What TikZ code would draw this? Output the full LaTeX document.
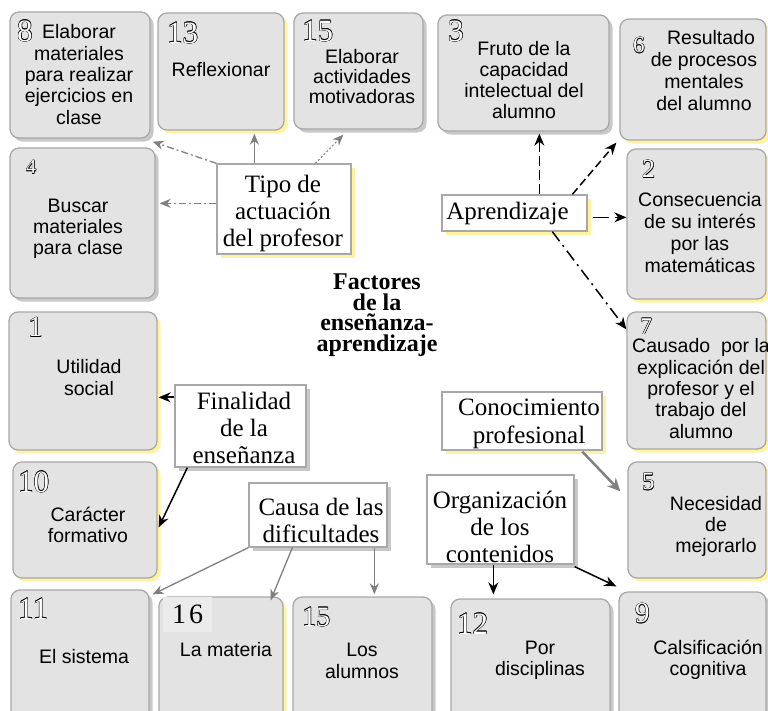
\documentclass[tikz,border=0pt]{standalone}
\usepackage{fontspec}
\setmainfont{Liberation Serif}
\newfontfamily\arial{Liberation Sans}
\usetikzlibrary{arrows.meta,shadows,calc}
\definecolor{boxfill}{HTML}{E3E3E3}
\definecolor{boxline}{HTML}{A8A8A8}
\definecolor{shy}{HTML}{FFF2A0}
\definecolor{shg}{HTML}{C8C8C8}
\definecolor{arrgrey}{HTML}{808080}
\definecolor{sqfill}{HTML}{EBEBEB}
\newcommand\hol[1]{{\setbox0=\hbox{#1}%
\rlap{\kern-0.4pt\copy0}\rlap{\kern0.4pt\copy0}\rlap{\raise0.4pt\copy0}\rlap{\raise-0.4pt\copy0}%
\rlap{\kern0.3pt\raise0.3pt\copy0}\rlap{\kern-0.3pt\raise-0.3pt\copy0}%
\rlap{\kern0.3pt\raise-0.3pt\copy0}\rlap{\kern-0.3pt\raise0.3pt\copy0}%
\textcolor{white}{\copy0}}}
\newcommand\mkbox[6]{%
 \pgfmathsetmacro\bxW{#4-#2}\pgfmathsetmacro\bxH{#5-#3}%
 \pgfmathsetmacro\bxX{(#2+#4)/2}\pgfmathsetmacro\bxY{(#3+#5)/2}%
 \node[#1, minimum width=\bxW pt, minimum height=\bxH pt] (#6) at (\bxX,\bxY) {};}
\tikzset{
 gbox/.style={draw=boxline, line width=1.3pt, fill=boxfill, rounded corners=9pt, inner sep=0pt},
 lbox/.style={draw=boxline, line width=1.3pt, fill=white, inner sep=0pt},
 yshad/.style={drop shadow={shadow xshift=3.5pt, shadow yshift=-3.5pt, fill=shy, opacity=1}},
 gshad/.style={drop shadow={shadow xshift=3.5pt, shadow yshift=-3.5pt, fill=shg, opacity=1}},
 btext/.style={font=\arial\fontsize{19.5}{21.3}\selectfont, align=center, inner sep=0pt},
 ltext/.style={font=\fontsize{25}{27}\selectfont, align=center, inner sep=0pt},
 num/.style={anchor=north west, inner sep=0pt},
 garr/.style={draw=arrgrey, line width=1.3pt, -{Stealth[length=11pt,width=9pt]}},
 barr/.style={draw=black, line width=1.5pt, -{Stealth[length=12pt,width=10pt]}},
}
\begin{document}
\begin{tikzpicture}[x=1pt,y=-1pt]
\useasboundingbox (0,0) rectangle (768,710);
\clip (0,0) rectangle (768,710);
% grey boxes
\mkbox{gbox,gshad}{10}{12}{150}{138}{b8}
\mkbox{gbox,yshad}{158}{13}{284}{130}{b13}
\mkbox{gbox,gshad}{294}{13}{423}{129}{b15a}
\mkbox{gbox,gshad}{438}{15}{609}{131}{b3}
\mkbox{gbox,yshad}{620}{19}{766}{140}{b6}
\mkbox{gbox,gshad}{10}{148}{155}{298}{b4}
\mkbox{gbox,yshad}{627}{149}{766}{299}{b2}
\mkbox{gbox,yshad}{627}{312}{766}{449}{b7}
\mkbox{gbox,yshad}{9}{312}{157}{450}{b1}
\mkbox{gbox,yshad}{13}{462}{157}{578}{b10}
\mkbox{gbox,yshad}{628}{462}{766}{578}{b5}
\mkbox{gbox,gshad}{11}{590}{149}{730}{b11}
\mkbox{gbox,yshad}{159}{597}{283}{730}{b16}
\mkbox{gbox,gshad}{293}{597}{432}{730}{b15b}
\mkbox{gbox,gshad}{451}{599}{610}{730}{b12}
\mkbox{gbox,gshad}{619}{592}{766}{730}{b9}
% label boxes
\mkbox{lbox,yshad}{217}{164}{351}{254}{tipo}
\mkbox{lbox,yshad}{442}{195}{587}{231}{apr}
\mkbox{lbox,yshad}{442}{392}{602}{450}{con}
\mkbox{lbox,gshad}{427}{475}{574}{564}{org}
\mkbox{lbox,gshad}{175}{385}{306}{467}{fin}
\mkbox{lbox,gshad}{249}{483}{387}{547}{cau}
% box texts
\node[btext] (t8) at (79,74.5) {Elaborar\\materiales\\para realizar\\ejercicios en\\clase};
\node[btext] (t13) at (221,70) {Reflexionar};
\node[btext, font=\arial\fontsize{19.5}{20}\selectfont] (t15a) at (362,77) {Elaborar\\actividades\\motivadoras};
\node[btext] (t3) at (524,80) {Fruto de la\\capacidad\\intelectual del\\alumno};
\node[btext, font=\arial\fontsize{19.5}{22}\selectfont] (t6) at (704,71) {\hspace*{14pt}Resultado\\de procesos\\mentales\\del alumno};
\node[btext] (t4) at (78,229) {Buscar\\materiales\\para clase};
\node[btext, font=\arial\fontsize{19.5}{22}\selectfont] (t2) at (700,233) {Consecuencia\\de su interés\\por las\\matemáticas};
\node[btext] (t7) at (701,388.5) {Causado\ \ por la\\explicación del\\profesor y el\\trabajo del\\alumno};
\node[btext] (t1) at (89,377.5) {Utilidad\\social};
\node[btext] (t10) at (88,525) {Carácter\\formativo};
\node[btext] (t5) at (716,526.5) {Necesidad\\de\\mejorarlo};
\node[btext] (t11) at (84,657) {El sistema};
\node[btext] (t16) at (226,650) {La materia};
\node[btext] (t15b) at (362,661) {Los\\alumnos};
\node[btext] (t12) at (540,660) {Por\\disciplinas};
\node[btext] (t9) at (708,660) {Calsificación\\cognitiva};
% numbers
\node[num, font=\fontsize{31}{31}\selectfont] (n8) at (17,20) {\hol{8}};
\node[num, font=\fontsize{31}{31}\selectfont] (n13) at (167,22) {\hol{13}};
\node[num, font=\fontsize{31}{31}\selectfont] (n15a) at (302,20) {\hol{15}};
\node[num, font=\fontsize{31}{31}\selectfont] (n3) at (448,20) {\hol{3}};
\node[num, font=\fontsize{23}{23}\selectfont] (n6) at (633,37) {\hol{6}};
\node[num, font=\fontsize{20}{20}\selectfont] (n4) at (26,160) {\hol{4}};
\node[num, font=\fontsize{26}{26}\selectfont] (n2) at (642,160) {\hol{2}};
\node[num, font=\fontsize{24}{24}\selectfont] (n7) at (640,318) {\hol{7}};
\node[num, font=\fontsize{29}{29}\selectfont] (n1) at (28,317) {\hol{1}};
\node[num, font=\fontsize{31}{31}\selectfont] (n10) at (18,471) {\hol{10}};
\node[num, font=\fontsize{25}{25}\selectfont] (n5) at (642,473) {\hol{5}};
\node[num, font=\fontsize{31}{31}\selectfont] (n11) at (18,598) {\hol{11}};
\node[num, font=\fontsize{28}{28}\selectfont] (n15b) at (302,607) {\hol{15}};
\node[num, font=\fontsize{31}{31}\selectfont] (n12) at (457,613) {\hol{12}};
\node[num, font=\fontsize{29}{29}\selectfont] (n9) at (635,603) {\hol{9}};
\node[anchor=north west, fill=sqfill, inner xsep=9pt, inner ysep=8pt, font=\fontsize{28}{28}\selectfont] (n16) at (163,597) {1\kern3pt 6};
% label texts
\node[ltext] (tt) at (283,213.5) {Tipo de\\actuación\\del profesor};
\node[ltext] (ta) at (507.5,213) {Aprendizaje};
\node[ltext, font=\fontsize{25}{28}\selectfont] (tc) at (529,424) {Conocimiento\\profesional};
\node[ltext] (to) at (500,526.5) {Organización\\de los\\contenidos};
\node[ltext] (tf) at (244,427.5) {Finalidad\\de la\\enseñanza};
\node[ltext, font=\fontsize{25}{27}\selectfont] (tcau) at (321,520) {Causa de las\\dificultades};
% title
\node[font=\bfseries\fontsize{24}{20.5}\selectfont, align=center, inner sep=0pt] (title) at (377,315) {Factores\\de la\\enseñanza-\\aprendizaje};
% arrows: Tipo de actuacion
\draw[garr, dash pattern=on 7pt off 3pt on 2pt off 3pt] (tipo.north west) -- ($(b8.south east)+(2,3)$);
\draw[garr] ($(tipo.north west)+(38,0)$) -- ($(b13.south west)+(97,3)$);
\draw[garr, line width=1pt, dash pattern=on 2pt off 2pt] ($(tipo.north west)+(99,0)$) -- ($(b15a.south west)+(50,5)$);
\draw[garr, dash pattern=on 7pt off 3pt on 2pt off 3pt] ($(tipo.north west)+(0,40)$) -- ($(b4.north east)+(4,56)$);
% Aprendizaje
\draw[barr, dash pattern=on 10pt off 4pt] ($(apr.north west)+(98,0)$) -- ($(b3.south west)+(102,2)$);
\draw[barr, dash pattern=on 8pt off 4pt] ($(apr.north west)+(131,0)$) -- ($(b6.south west)+(-3,2)$);
\draw[barr, dash pattern=on 16pt off 6pt] ($(apr.north east)+(5,23)$) -- ($(b2.north west)+(0,69)$);
\draw[barr, dash pattern=on 12pt off 5pt on 2pt off 5pt] ($(apr.south west)+(111,0)$) -- ($(b7.north west)+(0,18)$);
% Finalidad
\draw[barr, line width=1.8pt] ($(fin.north west)+(0,13)$) -- ($(b1.north east)+(1,86)$);
\draw[barr] ($(fin.south west)+(13,0)$) -- ($(b10.north east)+(1,66)$);
% Conocimiento
\draw[garr, line width=2.5pt, -{Stealth[length=13pt,width=12pt]}] ($(con.south west)+(141,1)$) -- ($(b5.north west)+(-7,30)$);
% Organizacion
\draw[barr] ($(org.south west)+(67,0)$) -- ($(b12.north west)+(43,-4)$);
\draw[barr] ($(org.south east)+(0,2)$) -- ($(b9.north west)+(-2,-5)$);
% Causa
\draw[garr] (cau.south west) -- ($(b11.north east)+(3,5)$);
\draw[garr] ($(cau.south west)+(44,0)$) -- ($(b16.north east)+(-13,4)$);
\draw[garr] ($(cau.south west)+(126,0)$) -- ($(b15b.north west)+(82,-2)$);
\end{tikzpicture}
\end{document}
